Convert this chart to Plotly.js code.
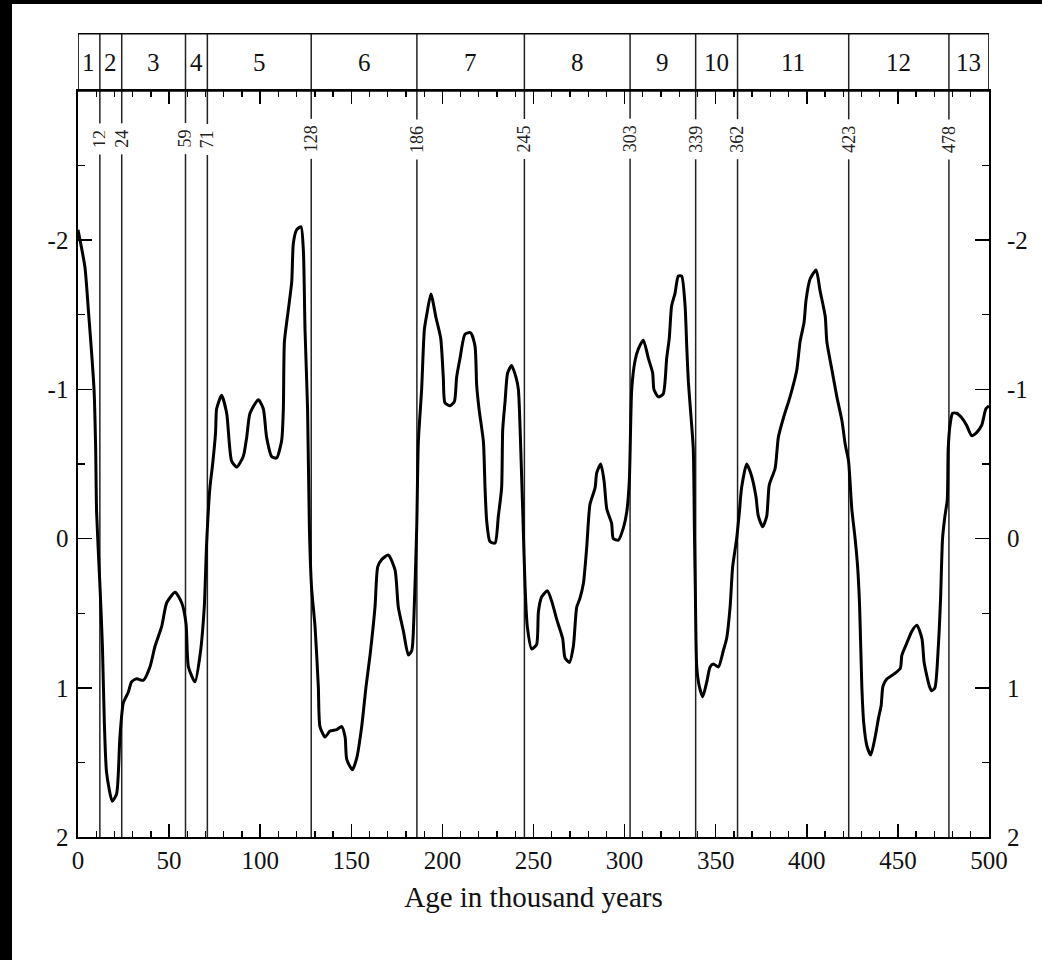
<!DOCTYPE html>
<html>
<head>
<meta charset="utf-8">
<script src="https://cdn.plot.ly/plotly-3.0.1.min.js"></script>
<style>
  html, body { margin: 0; padding: 0; background: #000; width: 1042px; height: 960px; overflow: hidden; }
  #chart { position: absolute; left: 12px; top: 4px; width: 1030px; height: 956px; background: #fff; }
</style>
</head>
<body>
<div id="chart"></div>
<script>
// Age (thousand years) and isotope value
const ages = [0, 3.8, 5.7, 7.5, 8.8, 9.7, 10.2, 12.1, 13.4, 14.5, 15.7, 18.8, 21.2, 23.0, 24.9, 27.6, 29.4, 32.2, 35.8, 39.5,
  42.3, 45.9, 48.7, 53.3, 56.9, 59.3, 60.6, 64.2, 67.0, 69.3, 70.6, 72.4, 73.9, 75.5, 76.1, 78.8, 81.6, 84.3, 87.1, 90.7,
  92.6, 94.4, 99.0, 101.7, 103.5, 106.3, 109.0, 111.8, 112.7, 113.3, 115.4, 117.3, 118.2, 120.0, 122.4, 123.7, 124.6, 126.0, 127.0, 128.2,
  130.1, 131.9, 132.8, 135.6, 138.3, 142.0, 144.7, 146.6, 147.5, 150.6, 153.0, 155.7, 158.1, 160.3, 163.0, 164.5, 166.7, 170.3, 174.0, 175.8,
  178.6, 181.3, 183.2, 184.3, 185.9, 186.8, 188.6, 190.1, 191.4, 193.7, 196.5, 199.1, 200.5, 201.4, 204.2, 206.6, 207.8, 209.7, 212.4, 215.5,
  217.9, 218.8, 220.1, 222.5, 223.4, 224.3, 226.1, 228.9, 230.7, 232.5, 233.1, 234.4, 235.8, 238.0, 240.4, 241.7, 243.0, 244.1, 245.4, 246.6,
  249.0, 251.7, 252.7, 254.5, 257.6, 260.0, 262.7, 266.0, 267.3, 269.7, 271.9, 273.7, 275.5, 277.4, 279.2, 281.0, 283.8, 284.7, 286.9, 288.7,
  290.2, 292.9, 293.8, 296.6, 299.3, 301.2, 302.6, 303.9, 305.7, 307.5, 310.3, 313.0, 315.4, 316.1, 318.5, 321.2, 323.1, 324.5, 325.8, 327.6,
  329.5, 331.3, 333.2, 334.1, 335.0, 336.5, 337.7, 338.3, 338.8, 339.6, 341.0, 342.9, 345.1, 346.9, 348.7, 351.5, 354.2, 356.0, 357.9, 359.3,
  361.5, 363.0, 364.2, 367.0, 369.7, 372.1, 373.4, 375.8, 378.0, 379.4, 382.6, 384.4, 387.2, 390.8, 394.5, 396.3, 398.5, 399.6, 401.8, 405.1,
  407.3, 410.1, 411.0, 413.8, 416.5, 419.3, 421.1, 422.9, 424.7, 426.6, 427.9, 429.0, 430.2, 431.2, 433.0, 435.1, 437.5, 439.4, 440.8, 441.8,
  444.0, 447.6, 451.3, 452.2, 454.9, 457.7, 460.4, 463.2, 464.4, 467.3, 468.5, 470.3, 472.2, 473.4, 474.5, 475.8, 477.1, 477.6, 478.6, 480.0,
  482.2, 485.0, 487.7, 490.5, 493.2, 496.0, 498.3, 500];
const values = [-2.07, -1.82, -1.53, -1.24, -1.00, -0.60, -0.18, 0.33, 0.72, 1.25, 1.57, 1.76, 1.71, 1.33, 1.10, 1.03, 0.96, 0.94, 0.95, 0.86,
  0.72, 0.59, 0.43, 0.36, 0.43, 0.57, 0.86, 0.96, 0.78, 0.46, 0.03, -0.34, -0.50, -0.71, -0.87, -0.96, -0.84, -0.52, -0.48, -0.55,
  -0.68, -0.84, -0.93, -0.87, -0.68, -0.55, -0.54, -0.66, -0.87, -1.32, -1.53, -1.72, -1.98, -2.07, -2.09, -1.93, -1.40, -0.87, -0.07, 0.33,
  0.59, 0.99, 1.26, 1.33, 1.29, 1.28, 1.26, 1.33, 1.48, 1.55, 1.47, 1.26, 0.99, 0.78, 0.46, 0.19, 0.14, 0.11, 0.21, 0.46,
  0.62, 0.78, 0.75, 0.55, -0.07, -0.65, -1.00, -1.40, -1.50, -1.64, -1.48, -1.34, -1.08, -0.91, -0.89, -0.92, -1.08, -1.21, -1.37, -1.38,
  -1.29, -1.03, -0.87, -0.65, -0.34, -0.12, 0.02, 0.03, -0.15, -0.34, -0.73, -0.92, -1.11, -1.16, -1.08, -1.00, -0.60, -0.18, 0.33, 0.59,
  0.74, 0.71, 0.49, 0.39, 0.35, 0.42, 0.54, 0.67, 0.80, 0.83, 0.72, 0.46, 0.40, 0.30, 0.06, -0.23, -0.34, -0.44, -0.50, -0.39,
  -0.20, -0.10, 0.00, 0.01, -0.07, -0.18, -0.39, -1.00, -1.19, -1.27, -1.33, -1.21, -1.11, -1.00, -0.95, -0.97, -1.21, -1.34, -1.56, -1.64,
  -1.76, -1.76, -1.56, -1.29, -1.05, -0.81, -0.60, -0.07, 0.33, 0.86, 0.99, 1.06, 0.96, 0.86, 0.84, 0.86, 0.75, 0.67, 0.46, 0.19,
  0.00, -0.18, -0.34, -0.50, -0.42, -0.28, -0.15, -0.08, -0.15, -0.36, -0.47, -0.68, -0.81, -0.95, -1.13, -1.32, -1.45, -1.60, -1.74, -1.80,
  -1.66, -1.49, -1.32, -1.13, -0.95, -0.79, -0.63, -0.52, -0.20, 0.01, 0.19, 0.46, 0.99, 1.23, 1.39, 1.45, 1.33, 1.20, 1.12, 0.99,
  0.94, 0.91, 0.87, 0.78, 0.70, 0.62, 0.58, 0.67, 0.83, 0.99, 1.02, 1.00, 0.72, 0.41, 0.00, -0.15, -0.26, -0.60, -0.76, -0.84,
  -0.84, -0.81, -0.76, -0.69, -0.71, -0.76, -0.87, -0.89];

// Stage boundaries (thousand years) and stage numbers
const boundaries = [12, 24, 59, 71, 128, 186, 245, 303, 339, 362, 423, 478];
const stageNames = ['1', '2', '3', '4', '5', '6', '7', '8', '9', '10', '11', '12', '13'];

// Axis ticks
const xTickVals = [0, 50, 100, 150, 200, 250, 300, 350, 400, 450, 500];
const xTickText = ['0', '50', '100', '150', '200', '250', '300', '350', '400', '450', '500'];
const yTickVals = [-2, -1, 0, 1, 2];
const yTickText = ['-2', '-1', '0', '1', '2'];
const xTitle = 'Age in thousand years';

const FONT = '"Liberation Serif", "Times New Roman", Times, serif';
const BOX_TOP = 1.0768;   // top of stage box (paper units)

const edges = [0].concat(boundaries, [500]);
const shapes = [];
const annotations = [];

// stage box
shapes.push({type: 'rect', xref: 'x', yref: 'paper', x0: 0, x1: 500, y0: 1, y1: BOX_TOP,
  line: {color: '#000', width: 1.6}, fillcolor: 'rgba(0,0,0,0)', layer: 'above'});

boundaries.forEach(function (b) {
  shapes.push({type: 'line', xref: 'x', yref: 'paper', x0: b, x1: b, y0: 0, y1: BOX_TOP,
    line: {color: '#222', width: 1.5}, layer: 'below'});
  annotations.push({xref: 'x', yref: 'paper', x: b, y: 0.9355, text: String(b), textangle: -90,
    showarrow: false, font: {family: FONT, size: 18, color: '#222'}, bgcolor: '#fff', borderpad: 6,
    xanchor: 'center', yanchor: 'middle'});
});

stageNames.forEach(function (name, i) {
  annotations.push({xref: 'x', yref: 'paper', x: (edges[i] + edges[i + 1]) / 2, y: (1 + BOX_TOP) / 2,
    text: name, showarrow: false, font: {family: FONT, size: 25, color: '#111'},
    xanchor: 'center', yanchor: 'middle'});
});

const traces = [
  {x: ages, y: values, type: 'scatter', mode: 'lines', line: {color: '#000', width: 3, shape: 'spline', smoothing: 0.6},
   hoverinfo: 'x+y', showlegend: false},
  {x: [0], y: [0], yaxis: 'y2', type: 'scatter', mode: 'none', hoverinfo: 'skip', showlegend: false}
];

const layout = {
  width: 1030, height: 956,
  margin: {l: 66, r: 53, t: 87, b: 123},
  paper_bgcolor: '#fff', plot_bgcolor: '#fff',
  font: {family: FONT, color: '#111', size: 25},
  showlegend: false,
  xaxis: {
    range: [0, 500], showgrid: false, zeroline: false,
    showline: true, linecolor: '#000', linewidth: 1.6, mirror: 'ticks',
    tickmode: 'array', tickvals: xTickVals, ticktext: xTickText,
    ticks: 'inside', ticklen: 13, tickwidth: 1.5, tickcolor: '#000',
    ticklabelstandoff: 0,
    minor: {tickmode: 'linear', tick0: 0, dtick: 10, ticks: 'inside', ticklen: 6, tickwidth: 1.3, tickcolor: '#000'},
    tickfont: {family: FONT, size: 25, color: '#111'},
    title: {text: xTitle, font: {family: FONT, size: 29, color: '#111'}, standoff: 14}
  },
  yaxis: {
    range: [2, -3], showgrid: false, zeroline: false,
    showline: true, linecolor: '#000', linewidth: 1.6, mirror: 'ticks',
    tickmode: 'array', tickvals: yTickVals, ticktext: yTickText,
    ticks: 'inside', ticklen: 14, tickwidth: 1.5, tickcolor: '#000',
    ticklabelstandoff: 3,
    minor: {tickmode: 'linear', tick0: 0, dtick: 0.5, ticks: 'inside', ticklen: 7, tickwidth: 1.3, tickcolor: '#000'},
    tickfont: {family: FONT, size: 25, color: '#111'}
  },
  yaxis2: {
    overlaying: 'y', side: 'right', range: [2, -3], showgrid: false, zeroline: false,
    showline: false, ticks: '', tickmode: 'array', tickvals: yTickVals, ticktext: yTickText,
    ticklabelstandoff: 17,
    tickfont: {family: FONT, size: 25, color: '#111'}
  },
  shapes: shapes,
  annotations: annotations
};

Plotly.newPlot('chart', traces, layout, {displayModeBar: false, staticPlot: true});
</script>
</body>
</html>
